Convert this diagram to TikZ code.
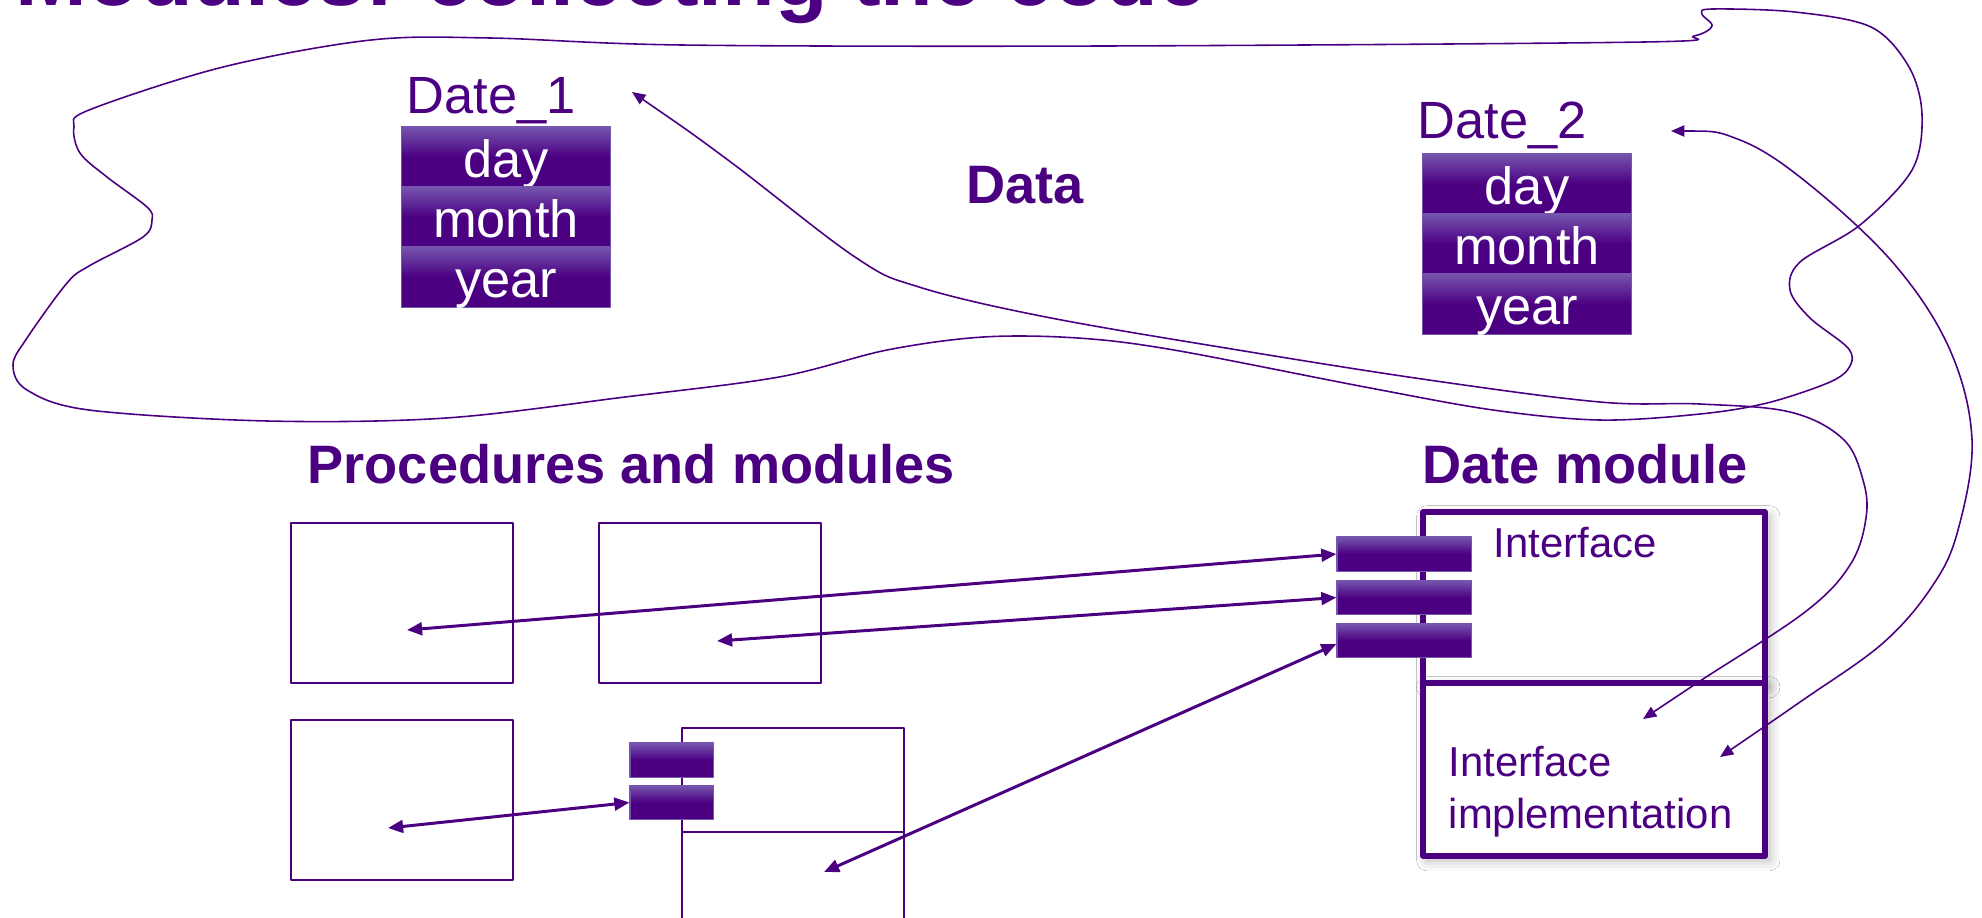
\documentclass[tikz,border=0pt]{standalone}
\usepackage{fontspec}
\setmainfont{Liberation Sans}
\usetikzlibrary{arrows.meta, shadows.blur}
\definecolor{mIndigo}{HTML}{4B0082}
\definecolor{mIndigoLight}{HTML}{7555AD}
\colorlet{accent}{mIndigo}

\begin{document}
\begin{tikzpicture}[x=0.01cm, y=-0.01cm, line join=round,
    lbl/.style={text=accent, inner sep=0pt, font=\fontsize{14.9}{17}\selectfont},
    head/.style={text=accent, inner sep=0pt, font=\bfseries\fontsize{15.4}{18}\selectfont},
    small/.style={text=accent, inner sep=0pt, font=\fontsize{11.9}{14.8}\selectfont},
    bar/.style={draw=mIndigoLight, line width=0.3pt, top color=mIndigoLight,
                bottom color=mIndigo, middle color=mIndigo, inner sep=0pt},
    field/.style={bar, text=white, minimum width=2.08cm, minimum height=0.6cm,
                  text height=0.44cm, text depth=0.04cm, font=\fontsize{14.9}{17}\selectfont},
    proc/.style={draw=accent, line width=0.55pt, fill=white, inner sep=0pt,
                 minimum width=2.22cm},
    modbox/.style={draw=accent, line width=1.5pt, fill=white, inner sep=0pt,
                   minimum width=3.42cm,
                   blur shadow={shadow xshift=1.2pt, shadow yshift=-1.2pt,
                                shadow blur radius=3pt, shadow opacity=30}},
    link/.style={{Triangle[length=4.3pt,width=3.6pt]}-{Triangle[length=4.3pt,width=3.6pt]},
                 accent, line width=0.85pt},
    wire/.style={{Triangle[length=3.8pt,width=3.2pt]}-{Triangle[length=3.8pt,width=3.2pt]},
                 accent, line width=0.45pt}]
  \useasboundingbox[fill=white] (0,0) rectangle (1982,917);

  \node[text=accent, inner sep=0pt, anchor=base east,
        font=\bfseries\fontsize{24.5}{29}\selectfont] (title) at (1207,5)
        {Modules: collecting the code};

  % the data cloud
  \draw[accent, line width=0.45pt] plot[smooth cycle, tension=0.55] coordinates {
      (89,110) (223,67) (371,40) (491,38) (683,45) (1100,46) (1643,42) (1694,36)
      (1712,26) (1702,14) (1712,9) (1795,12) (1871,27) (1909,67) (1922,115)
      (1912,170) (1860,225) (1800,262) (1790,290) (1810,318) (1848,348) (1850,366)
      (1830,382) (1767,403) (1700,414) (1600,420) (1493,410) (1365,387) (1174,350)
      (1078,338) (983,337) (887,350) (779,377) (625,397) (446,418) (268,421)
      (89,410) (27,390) (13,365) (27,338) (67,283) (89,266) (143,237) (152,220)
      (147,207) (107,177) (80,153) (74,127)};

  \node[lbl, anchor=base west] (date1) at (406,113) {Date\_1};
  \node[lbl, anchor=base west] (date2) at (1417,138) {Date\_2};
  \foreach \f [count=\i] in {day,month,year}{
    \node[field] (d1\f) at (506,{97+60*\i}) {\f};
    \node[field] (d2\f) at (1527,{124+60*\i}) {\f};}
  \node[head, anchor=base west] (data) at (966,203) {Data};

  \node[head, anchor=base west] (prochead) at (307,483) {Procedures and modules};
  \node[head, anchor=base west] (modhead) at (1422,483) {Date module};

  % procedures and modules
  \node[proc, minimum height=1.6cm] (pA) at (402,603) {};
  \node[proc, minimum height=1.6cm] (pB) at (710,603) {};
  \node[proc, minimum height=1.6cm] (pC) at (402,800) {};
  \node[proc, minimum height=1.04cm] (pD) at (793,780) {};
  \node[proc, minimum height=1.0cm] (pDimpl) at (793,882) {};
  \foreach \y [count=\i] in {760,802.5}
    \node[bar, minimum width=0.83cm, minimum height=0.34cm] (db\i) at (671.5,\y) {};

  % date module
  \node[modbox, minimum height=1.71cm] (modif) at (1594,597.5) {};
  \node[modbox, minimum height=1.73cm] (modimpl) at (1594,769.5) {};
  \node[small, anchor=base west] (iflbl) at (1493,557) {Interface};
  \node[small, anchor=north west, align=left] (impllbl) at (1448,745)
       {Interface\\implementation};
  \foreach \y [count=\i] in {554,597.5,640.5}
    \node[bar, minimum width=1.34cm, minimum height=0.34cm] (if\i) at (1404,\y) {};

  \coordinate (pAin) at (407,630);
  \coordinate (pBin) at (717,641);
  \coordinate (pCin) at (388,828);
  \coordinate (pDin) at (824,872);
  \coordinate (d1tip) at (632,92);
  \coordinate (d2tip) at (1671,131);
  \coordinate (implA) at (1643,719);
  \coordinate (implB) at (1720,757);

  \draw[link] (pAin) -- (if1.west);
  \draw[link] (pBin) -- (if2.west);
  \draw[link] (pDin) -- ([yshift=-1pt]if3.west);
  \draw[link] (pCin) -- (db2.west);

  \draw[wire] plot[smooth, tension=0.6] coordinates {
      (d1tip) (728,160) (855,257) (919,287) (1046,317) (1238,350) (1429,380)
      (1600,402) (1700,404) (1790,412) (1843,439) (1863,480) (1866,518)
      (1850,565) (1805,612) (1700,681) (implA)};
  \draw[wire] plot[smooth, tension=0.6] coordinates {
      (d2tip) (1740,140) (1810,185) (1895,265) (1950,350) (1972,440) (1958,530)
      (1933,585) (1883,643) (1800,702) (implB)};
\end{tikzpicture}
\end{document}
